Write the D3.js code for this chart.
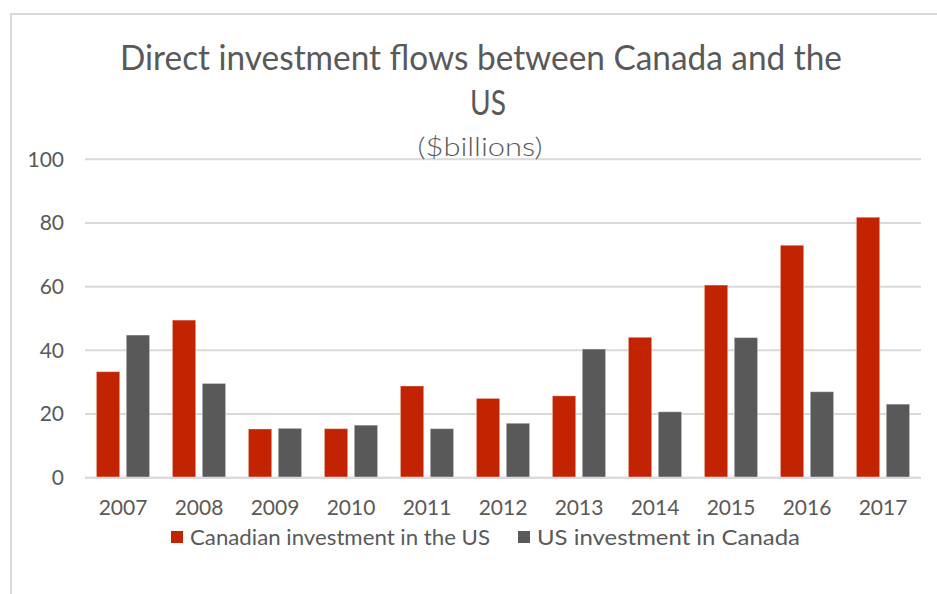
<!DOCTYPE html>
<html>
<head>
<meta charset="utf-8">
<script src="https://cdn.jsdelivr.net/npm/d3@7/dist/d3.min.js"></script>
<style>
  html, body { margin: 0; padding: 0; background: #fff; }
  svg { display: block; font-family: Lato, "Open Sans", sans-serif; }
</style>
</head>
<body>
<svg id="chart" width="937" height="594"></svg>
<script>
// Direct investment flows between Canada and the US, $ billions
const years = ["2007","2008","2009","2010","2011","2012","2013","2014","2015","2016","2017"];
const canadianInUS = [33.3, 49.5, 15.3, 15.4, 28.8, 24.9, 25.7, 44.1, 60.5, 73.0, 81.8];
const usInCanada   = [44.8, 29.6, 15.5, 16.5, 15.4, 17.1, 40.4, 20.7, 44.0, 27.0, 23.1];
const seriesNames  = ["Canadian investment in the US", "US investment in Canada"];
const seriesColors = ["#C22300", "#595959"];
const yTicks = [0, 20, 40, 60, 80, 100];

const series = [canadianInUS, usInCanada];
const svg = d3.select("#chart");
const textColor = "#595959";

// chart frame
svg.append("rect")
  .attr("x", 11).attr("y", 14)
  .attr("width", 940).attr("height", 600)
  .attr("fill", "#fff")
  .attr("stroke", "#d9d9d9").attr("stroke-width", 2);

const plot = { left: 85, right: 921, top: 159.3, bottom: 477.7 };

const x0 = d3.scaleBand()
  .domain(years)
  .range([plot.left, plot.right])
  .paddingInner(0.3)
  .paddingOuter(0.15);

const x1 = d3.scaleBand()
  .domain(d3.range(series.length))
  .range([0, x0.bandwidth()])
  .paddingInner(0.22);

const y = d3.scaleLinear().domain([0, 100]).range([plot.bottom, plot.top]);

// gridlines
svg.append("g")
  .selectAll("line")
  .data(yTicks)
  .join("line")
  .attr("x1", plot.left).attr("x2", plot.right)
  .attr("y1", d => y(d)).attr("y2", d => y(d))
  .attr("stroke", "#d9d9d9").attr("stroke-width", 2);

// y axis labels
const yAxis = svg.append("g")
  .attr("transform", `translate(${plot.left},0)`)
  .call(d3.axisLeft(y).tickValues(yTicks).tickSize(0).tickPadding(21));
yAxis.select(".domain").remove();
yAxis.selectAll("text")
  .attr("fill", textColor)
  .style("font-size", "21px")
  .style("font-family", "Lato, 'Open Sans', sans-serif");

// bars
const groups = svg.append("g")
  .selectAll("g")
  .data(years)
  .join("g")
  .attr("transform", d => `translate(${x0(d)},0)`);

groups.selectAll("rect")
  .data((d, i) => series.map((s, k) => ({ k, v: s[i] })))
  .join("rect")
  .attr("x", d => x1(d.k))
  .attr("width", x1.bandwidth())
  .attr("y", d => y(d.v))
  .attr("height", d => y(0) - y(d.v))
  .attr("fill", d => seriesColors[d.k])
  .attr("stroke", "#ffffff")
  .attr("stroke-opacity", 0.35)
  .attr("stroke-width", 1);

// x axis line
svg.append("line")
  .attr("x1", plot.left).attr("x2", plot.right)
  .attr("y1", y(0)).attr("y2", y(0))
  .attr("stroke", "#d9d9d9").attr("stroke-width", 2);

// x axis labels
const xAxis = svg.append("g")
  .attr("transform", `translate(0,${plot.bottom})`)
  .call(d3.axisBottom(x0).tickSize(0).tickPadding(22));
xAxis.select(".domain").remove();
xAxis.selectAll("text")
  .attr("fill", textColor)
  .style("font-size", "21px")
  .style("font-family", "Lato, 'Open Sans', sans-serif");

// title
svg.append("text")
  .attr("x", 481).attr("y", 70)
  .attr("text-anchor", "middle")
  .attr("fill", textColor)
  .style("font-size", "34px").style("font-weight", 400)
  .attr("textLength", 722).attr("lengthAdjust", "spacingAndGlyphs")
  .text("Direct investment flows between Canada and the");
svg.append("text")
  .attr("x", 488).attr("y", 115)
  .attr("text-anchor", "middle")
  .attr("fill", textColor)
  .style("font-size", "34px").style("font-weight", 400)
  .attr("textLength", 36).attr("lengthAdjust", "spacingAndGlyphs")
  .text("US");
svg.append("text")
  .attr("x", 480).attr("y", 156)
  .attr("text-anchor", "middle")
  .attr("fill", textColor)
  .style("font-size", "26px").style("font-weight", 300)
  .attr("textLength", 125).attr("lengthAdjust", "spacingAndGlyphs")
  .text("($billions)");

// legend
const legendPos = [171, 518];
const legendWidths = [300, 263];
const legend = svg.append("g")
  .selectAll("g")
  .data(seriesNames)
  .join("g")
  .attr("transform", (d, i) => `translate(${legendPos[i]},531)`);
legend.append("rect")
  .attr("width", 12).attr("height", 12)
  .attr("fill", (d, i) => seriesColors[i]);
legend.append("text")
  .attr("x", 19).attr("y", 14)
  .attr("fill", textColor)
  .style("font-size", "21px")
  .attr("textLength", (d, i) => legendWidths[i])
  .attr("lengthAdjust", "spacingAndGlyphs")
  .text(d => d);
</script>
</body>
</html>
